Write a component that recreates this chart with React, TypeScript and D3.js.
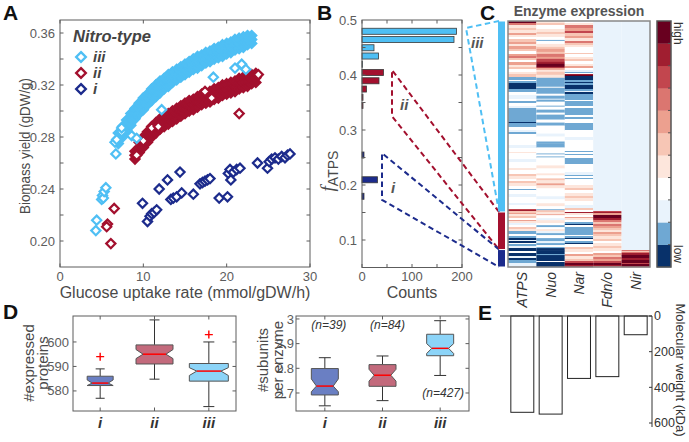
import React from 'react';
import * as d3 from 'd3';

const FONT = "'Liberation Sans', Arial, Helvetica, sans-serif";
const C3 = '#4fbff4';
const C2 = '#a3102e';
const C1 = '#1c2b8c';
const AX = '#5c5c5c';
const TXT = '#4a4a4a';

// ---------------- Panel A data ----------------
const bandIII: [number, number, number][] = [
  [7.0, .275, .283], [7.5, .280, .288], [8.0, .285, .293], [8.5, .289, .298], [9.0, .294, .302],
  [9.5, .298, .306], [10.0, .301, .310], [10.5, .305, .313], [11.0, .308, .317], [11.5, .311, .320],
  [12.0, .314, .323], [12.5, .317, .325], [13.0, .319, .328], [13.5, .322, .330], [14.0, .324, .332],
  [14.5, .326, .334], [15.0, .328, .336], [15.5, .330, .338], [16.0, .332, .340], [16.5, .333, .342],
  [17.0, .335, .343], [17.5, .337, .345], [18.0, .338, .346], [18.5, .340, .348], [19.0, .341, .349],
  [19.5, .342, .351], [20.0, .344, .352], [20.5, .345, .353], [21.0, .347, .355], [21.5, .348, .356],
  [22.0, .349, .357], [22.5, .351, .358], [23.0, .352, .358],
];
const bandII: [number, number, number][] = [
  [9.0, .263, .269], [9.5, .268, .276], [10.0, .272, .280], [10.5, .276, .284], [11.0, .280, .288],
  [11.5, .283, .291], [12.0, .286, .294], [12.5, .288, .296], [13.0, .290, .298], [13.5, .292, .300],
  [14.0, .294, .302], [14.5, .296, .304], [15.0, .298, .306], [15.5, .300, .308], [16.0, .301, .309],
  [16.5, .303, .311], [17.0, .305, .313], [17.5, .306, .314], [18.0, .307, .315], [18.5, .309, .317],
  [19.0, .310, .318], [19.5, .312, .320], [20.0, .313, .321], [20.5, .314, .322], [21.0, .315, .323],
  [21.5, .317, .325], [22.0, .318, .326], [22.5, .319, .327], [23.0, .321, .328], [23.5, .322, .329],
];
const ptsIII: [number, number][] = [
  [4.4, 0.216], [4.3, 0.208], [5.0, 0.232], [5.1, 0.235], [5.2, 0.233], [5.3, 0.238], [5.5, 0.241],
  [6.7, 0.267], [6.6, 0.276], [6.8, 0.278], [7.4, 0.284], [7.4, 0.287], [8.6, 0.281], [9.2, 0.279],
  [12.2, 0.301], [18.4, 0.326], [21.0, 0.333], [21.8, 0.336], [22.3, 0.332],
];
const ptsII: [number, number][] = [
  [5.7, 0.213], [5.6, 0.211], [6.5, 0.225], [6.1, 0.198], [11.0, 0.287], [11.8, 0.288],
  [21.5, 0.298], [23.8, 0.328], [17.4, 0.315], [18.2, 0.310], [10.0, 0.277], [9.2, 0.266],
];
const ptsI: [number, number][] = [
  [9.9, 0.229], [10.5, 0.215], [10.8, 0.219], [11.0, 0.221], [11.3, 0.222], [11.6, 0.224], [11.9, 0.240],
  [12.9, 0.247], [13.3, 0.232], [13.6, 0.233], [14.0, 0.234], [14.4, 0.253], [14.6, 0.237], [16.0, 0.236],
  [16.8, 0.244], [17.1, 0.245], [17.4, 0.246], [17.7, 0.247], [18.0, 0.248], [19.1, 0.233], [20.1, 0.234],
  [20.2, 0.252], [20.4, 0.255], [20.5, 0.247], [20.8, 0.253], [21.2, 0.255], [21.6, 0.256], [23.7, 0.260],
  [24.9, 0.256], [25.1, 0.261], [25.4, 0.263], [25.8, 0.264], [26.2, 0.263], [26.6, 0.265], [27.0, 0.264],
  [27.3, 0.266], [27.6, 0.267],
];
const aXTicks = [0, 10, 20, 30];
const aYTicks = [0.2, 0.22, 0.24, 0.26, 0.28, 0.3, 0.32, 0.34, 0.36];
const aYLabels = [0.2, 0.24, 0.28, 0.32, 0.36];

// ---------------- Panel B data ----------------
const fBinsIII = [0.4795, 0.4645, 0.4495, 0.4345, 0.4195];
const countsIII = [189, 184, 24, 33, 1];
const fBinsII = [0.4045, 0.3895, 0.3745, 0.3595, 0.3445];
const countsII = [43, 34, 9, 2, 2];
const fBinsI = [0.2545, 0.2095, 0.1795];
const countsI = [4, 31, 4];
const bXTicks = [0, 50, 100, 150, 200];
const bXLabels = [0, 100, 200];
const bYTicks = [0.1, 0.15, 0.2, 0.25, 0.3, 0.35, 0.4, 0.45];
const bYLabels = [0.1, 0.2, 0.3, 0.4, 0.5];
const connIII: [number, number][] = [[208, 0.4855]];
const connII: [number, number][] = [[60, 0.409], [60, 0.325]];
const connI: [number, number][] = [[40, 0.258], [40, 0.173]];

// ---------------- Panel C data ----------------
const enzymes = ['ATPS', 'Nuo', 'Nar', 'Fdn/o', 'Nir'];
const groupNames = ['iii', 'ii', 'i'];
const groupSizes = [427, 84, 39];
const levelColors = ['#08316a', '#6fa8d3', '#e9f3fc', '#ffffff', '#fde6dc', '#f7c6b5', '#eca08f', '#db7670', '#c2464e', '#a01e30', '#68001f'];
const heatATPS: [number, number][] = [
  [10, 2], [7, 2], [4, 3], [5, 2], [4, 3], [6, 2], [4, 2], [3, 2], [5, 3], [6, 2], [4, 2], [6, 3], [5, 2], [3, 3], [6, 2], [7, 2], [5, 2], [3, 2], [6, 3], [4, 2], [5, 2], [3, 3], [4, 2], [5, 3],
  [1, 3], [3, 1], [1, 2], [0, 6], [1, 3], [3, 3], [2, 4], [3, 2], [1, 2], [3, 3], [2, 2], [1, 14], [0, 1], [1, 4], [3, 3], [2, 2], [1, 2], [3, 3],
  [3, 8], [2, 3], [3, 4], [4, 1], [3, 6], [2, 3], [3, 6], [4, 2], [3, 4], [5, 2], [4, 3], [3, 2], [5, 2], [4, 3], [3, 3], [1, 1], [3, 4], [2, 3], [3, 3],
  [3, 3], [2, 2], [3, 4],
  [8, 1], [9, 1], [5, 2], [6, 1], [4, 2], [5, 2], [3, 2], [6, 1], [4, 2], [2, 2], [3, 2], [5, 2], [4, 2], [1, 3], [3, 2], [1, 2], [0, 2], [2, 1], [0, 2], [3, 1], [1, 2], [2, 2],
  [0, 3], [3, 2], [0, 3], [2, 2], [0, 2], [1, 3], [2, 4],
];
const heatNuo: [number, number][] = [
  [4, 2], [5, 2], [3, 1], [3, 3], [4, 3], [5, 2], [4, 3], [3, 3], [1, 1], [3, 3], [4, 3], [5, 2], [6, 3], [5, 2], [7, 3], [6, 2], [8, 3], [9, 2], [10, 3], [9, 1], [6, 2], [4, 2], [5, 3], [4, 3],
  [1, 7], [1, 2], [3, 1], [1, 2], [1, 4], [3, 2], [1, 3], [2, 1], [1, 2], [3, 4], [1, 1], [3, 3], [1, 3], [3, 2], [1, 5], [3, 3], [1, 3], [3, 8], [2, 3], [3, 5], [1, 2],
  [1, 4], [3, 6], [1, 1], [3, 2], [1, 1], [3, 8], [4, 3], [3, 5], [4, 2], [3, 3], [5, 2], [4, 3], [6, 2], [4, 3], [3, 3], [3, 5], [2, 3], [3, 4], [4, 3], [3, 3],
  [1, 1], [5, 2], [4, 2], [6, 1], [3, 3], [2, 2], [4, 3], [3, 2], [1, 2], [3, 2], [4, 2], [2, 2], [1, 2], [3, 3], [1, 3], [2, 2], [1, 2], [3, 2], [1, 1], [0, 2],
  [0, 4], [1, 1], [0, 6], [3, 1], [0, 5],
];
const heatNar: [number, number][] = [
  [3, 2], [4, 2], [7, 3], [6, 3], [8, 2], [5, 3], [6, 2], [4, 3], [7, 2], [5, 2], [4, 2], [3, 3], [3, 3], [5, 1], [3, 3], [4, 2], [5, 2], [3, 3], [4, 2], [6, 2], [3, 2], [2, 2], [1, 1], [3, 1], [9, 1], [10, 1],
  [0, 4], [1, 2], [0, 1], [1, 2], [0, 4], [1, 2], [2, 1], [0, 2], [1, 3], [1, 3], [3, 1], [1, 3], [1, 2], [3, 2], [1, 7], [3, 2], [1, 2], [3, 4], [1, 2], [1, 5], [3, 2], [3, 5], [2, 3], [3, 4],
  [3, 5], [3, 2], [1, 1], [3, 2], [1, 1], [3, 3], [1, 6], [3, 8], [2, 3], [1, 1], [3, 2], [1, 1], [3, 6], [4, 3], [5, 2], [3, 3], [4, 3], [5, 2], [4, 3], [3, 4], [2, 3], [5, 2], [3, 2],
  [9, 1], [4, 2], [3, 2], [6, 1], [4, 2], [3, 2], [1, 2], [0, 1], [3, 2], [1, 8], [3, 1], [1, 2], [0, 1], [3, 2], [1, 2], [0, 1], [3, 3],
  [5, 2], [4, 3], [3, 2], [6, 2], [4, 3], [5, 2], [8, 2], [10, 2], [9, 2],
];
const heatFdn: [number, number][] = [
  [2, 190],
  [8, 1], [9, 1], [6, 2], [10, 3], [9, 2], [7, 2], [5, 2], [7, 2], [6, 2], [5, 2], [4, 2], [6, 2], [5, 2], [4, 3], [5, 2], [3, 2], [4, 3], [5, 2], [4, 3], [3, 2], [6, 2], [5, 2], [7, 2], [6, 2], [8, 2], [10, 2], [9, 1], [7, 1],
];
const heatNir: [number, number][] = [
  [2, 229],
  [7, 1], [5, 1], [7, 1], [9, 2], [10, 3], [9, 2], [10, 3], [8, 1], [10, 2], [9, 1],
];
const heatColumns = [heatATPS, heatNuo, heatNar, heatFdn, heatNir];

// ---------------- Panel D data ----------------
const types = ['i', 'ii', 'iii'];
const protLo = [577, 584.8, 573.6];
const protQ1 = [582.2, 591, 584];
const protMed = [583.2, 595, 588.1];
const protQ3 = [586, 598.8, 591.2];
const protHi = [589, 609, 600];
const protNotchLo = [581.3, 593.2, 586.3];
const protNotchHi = [584.5, 596.9, 589.5];
const protOutliers = [[594], [], [603]];
const protTicks = [580, 590, 600];

const subLo = [2.648, 2.669, 2.771];
const subQ1 = [2.692, 2.727, 2.851];
const subMed = [2.728, 2.772, 2.881];
const subQ3 = [2.799, 2.815, 2.938];
const subHi = [2.843, 2.85, 2.993];
const subNotchLo = [2.705, 2.748, 2.86];
const subNotchHi = [2.757, 2.796, 2.90];
const subTicks = [2.7, 2.8, 2.9, 3];
const subN = [39, 84, 427];

// ---------------- Panel E data ----------------
const molWeight = [540, 550, 350, 340, 105];
const eTicks = [0, 200, 400, 600];

// ---------------- helpers ----------------
const TL = 3.5;
const diamond = (cx: number, cy: number, s: number) =>
  `M${cx},${cy - s}L${cx + s},${cy}L${cx},${cy + s}L${cx - s},${cy}Z`;

function Frame({ l, r, t, b, xt, yt }: { l: number; r: number; t: number; b: number; xt: number[]; yt: number[] }) {
  return (
    <g stroke={AX} strokeWidth={1} fill="none">
      <rect x={l} y={t} width={r - l} height={b - t} />
      {xt.map((x, i) => (
        <g key={'x' + i}>
          <line x1={x} x2={x} y1={b} y2={b - TL} />
          <line x1={x} x2={x} y1={t} y2={t + TL} />
        </g>
      ))}
      {yt.map((y, i) => (
        <g key={'y' + i}>
          <line x1={l} x2={l + TL} y1={y} y2={y} />
          <line x1={r} x2={r - TL} y1={y} y2={y} />
        </g>
      ))}
    </g>
  );
}

function notchBox(cx: number, w: number, q1: number, q3: number, med: number, nLo: number, nHi: number, ys: (v: number) => number) {
  const k = 0.62;
  const L = cx - w / 2, R = cx + w / 2, iL = cx - (w * k) / 2, iR = cx + (w * k) / 2;
  const lo = Math.max(nLo, q1), hi = Math.min(nHi, q3);
  return `M${L},${ys(q1)}L${L},${ys(lo)}L${iL},${ys(med)}L${L},${ys(hi)}L${L},${ys(q3)}L${R},${ys(q3)}L${R},${ys(hi)}L${iR},${ys(med)}L${R},${ys(lo)}L${R},${ys(q1)}Z`;
}

export default function App() {
  // Panel A
  const xA = d3.scaleLinear().domain([0, 30]).range([60, 310]);
  const yA = d3.scaleLinear().domain([0.18, 0.37]).range([267, 20]);
  // Panel B
  const xB = d3.scaleLinear().domain([0, 200]).range([362, 462]);
  const yB = d3.scaleLinear().domain([0.05, 0.5]).range([267.5, 20]);
  // Panel C
  const xH = d3.scaleBand<string>().domain(enzymes).range([508, 650]);
  const totalRows = d3.sum(groupSizes);
  const yH = d3.scaleLinear().domain([0, totalRows]).range([21, 267]);
  const yCB = d3.scaleLinear().domain([0, levelColors.length]).range([267, 21]);
  // Panel E
  const xE = d3.scaleBand<string>().domain(enzymes).range([508, 650]).paddingInner(0.19).paddingOuter(0.1);
  const yE = d3.scaleLinear().domain([0, 600]).range([316, 423]);
  // Panel D
  const xDL = d3.scalePoint<string>().domain(types).range([73, 236]).padding(0.5);
  const yDL = d3.scaleLinear().domain([571.8, 610.6]).range([411, 316]);
  const xDR = d3.scalePoint<string>().domain(types).range([296, 469]).padding(0.5);
  const yDR = d3.scaleLinear().domain([2.627, 3.012]).range([411, 316]);

  const groupStarts = groupSizes.map((_, i) => d3.sum(groupSizes.slice(0, i)));
  const groupColors = [C3, C2, C1];

  const line = d3.line<[number, number]>();
  const indX = 499;
  const connectors = [connIII, connII, connI].map((pts, gi) => {
    const top: [number, number] = [indX, yH(groupStarts[gi])];
    const bot: [number, number] = [indX, yH(groupStarts[gi] + groupSizes[gi])];
    const mid = pts.map(([c, f]) => [xB(c), yB(f)] as [number, number]);
    return line([top, ...mid, bot]) as string;
  });

  const bars = [
    { bins: fBinsIII, counts: countsIII, color: C3 },
    { bins: fBinsII, counts: countsII, color: C2 },
    { bins: fBinsI, counts: countsI, color: C1 },
  ];

  const boxWL = [26, 37, 39];
  const capWL = [9, 10, 11];
  const boxFill = ['#6a7fc3', '#c36a7c', '#8cd4f8'];

  return (
    <svg width={689} height={442} style={{ position: 'absolute', left: 0, top: 0, background: '#fff' }} fontFamily={FONT}>
      {/* ---------------- Panel A ---------------- */}
      <g>
        {bandIII.flatMap(([x, lo, hi], i) =>
          [lo, (lo + hi) / 2, hi].map((y, j) => (
            <path key={`b3-${i}-${j}`} d={diamond(xA(x), yA(y), 5)} fill={C3} stroke={C3} strokeWidth={1.6} />
          ))
        )}
        {bandII.flatMap(([x, lo, hi], i) =>
          [lo, (lo + hi) / 2, hi].map((y, j) => (
            <path key={`b2-${i}-${j}`} d={diamond(xA(x), yA(y), 5)} fill={C2} stroke={C2} strokeWidth={1.6} />
          ))
        )}
        {ptsI.map(([x, y], i) => (
          <path key={'p1' + i} d={diamond(xA(x), yA(y), 4.6)} fill="#fff" stroke={C1} strokeWidth={2.2} />
        ))}
        {ptsII.map(([x, y], i) => (
          <path key={'p2' + i} d={diamond(xA(x), yA(y), 4.6)} fill="#fff" stroke={C2} strokeWidth={2.2} />
        ))}
        {ptsIII.map(([x, y], i) => (
          <path key={'p3' + i} d={diamond(xA(x), yA(y), 4.6)} fill="#fff" stroke={C3} strokeWidth={2.2} />
        ))}
        <Frame l={60} r={310} t={20} b={267} xt={aXTicks.map(xA)} yt={aYTicks.map(yA)} />
        {aXTicks.map((t) => (
          <text key={'ax' + t} x={xA(t)} y={281} textAnchor="middle" fontSize={13} fill={AX}>{t}</text>
        ))}
        {aYLabels.map((t) => (
          <text key={'ay' + t} x={55} y={yA(t)} dy="0.35em" textAnchor="end" fontSize={13} fill={AX}>{t.toFixed(2)}</text>
        ))}
        <text x={185} y={298} textAnchor="middle" fontSize={16} fill={TXT}>Glucose uptake rate (mmol/gDW/h)</text>
        <text transform="translate(30,146) rotate(-90)" textAnchor="middle" fontSize={15} fill={TXT} textLength={136} lengthAdjust="spacingAndGlyphs">Biomass yield (gDW/g)</text>
        {/* legend */}
        <text x={73} y={42} fontSize={16.5} fontWeight="bold" fontStyle="italic" fill="#444">Nitro-type</text>
        {[C3, C2, C1].map((c, i) => (
          <g key={'lg' + i}>
            <path d={diamond(81, 57 + i * 16, 4.8)} fill="#fff" stroke={c} strokeWidth={2.4} />
            <text x={93} y={62 + i * 16} fontSize={15} fontWeight="bold" fontStyle="italic" fill="#444">{groupNames[i]}</text>
          </g>
        ))}
      </g>

      {/* ---------------- Panel B ---------------- */}
      <g>
        {bars.map((s, si) =>
          s.bins.map((f, i) => (
            <rect key={`bb${si}-${i}`} x={xB(0)} y={yB(f + 0.0055)} width={xB(s.counts[i]) - xB(0)} height={yB(f - 0.0055) - yB(f + 0.0055)} fill={s.color} stroke="#3a3a3a" strokeWidth={0.8} />
          ))
        )}
        <Frame l={362} r={462} t={20} b={267.5} xt={bXTicks.map(xB)} yt={bYTicks.map(yB)} />
        {bXLabels.map((t) => (
          <text key={'bx' + t} x={xB(t)} y={281} textAnchor="middle" fontSize={13} fill={AX}>{t}</text>
        ))}
        {bYLabels.map((t) => (
          <text key={'by' + t} x={357} y={yB(t)} dy="0.35em" textAnchor="end" fontSize={13} fill={AX}>{t.toFixed(1)}</text>
        ))}
        <text x={412} y={298} textAnchor="middle" fontSize={16} fill={TXT}>Counts</text>
        <text transform="translate(334,171) rotate(-90)" textAnchor="middle" fill={TXT}>
          <tspan fontSize={19} fontStyle="italic" fontFamily="'Liberation Serif', 'Times New Roman', serif">f</tspan>
          <tspan fontSize={14} dy={4}>ATPS</tspan>
        </text>
      </g>

      {/* connectors */}
      {connectors.map((d, i) => (
        <path key={'cn' + i} d={d} fill="none" stroke={groupColors[i]} strokeWidth={2} strokeDasharray="5.5,3.5" />
      ))}
      <text x={471} y={48} fontSize={15} fontWeight="bold" fontStyle="italic" fill="#555">iii</text>
      <text x={400} y={110} fontSize={15} fontWeight="bold" fontStyle="italic" fill="#555">ii</text>
      <text x={391} y={193} fontSize={15} fontWeight="bold" fontStyle="italic" fill="#555">i</text>

      {/* ---------------- Panel C ---------------- */}
      <g>
        {heatColumns.map((col, ci) => {
          const tot = d3.sum(col, (d) => d[1]);
          const k = totalRows / tot;
          let cum = 0;
          return col.map(([lvl, n], si) => {
            const y0 = yH(cum * k);
            cum += n;
            const y1 = yH(cum * k);
            return (
              <rect key={`h${ci}-${si}`} x={xH(enzymes[ci])} y={y0} width={xH.bandwidth()} height={y1 - y0 + 0.3} fill={levelColors[lvl]} />
            );
          });
        })}
        <rect x={508} y={21} width={142} height={246} fill="none" stroke="#888" strokeWidth={1.5} />
        {groupSizes.map((n, i) => (
          <rect key={'ind' + i} x={498} width={7} y={yH(groupStarts[i]) + 0.5} height={yH(groupStarts[i] + n) - yH(groupStarts[i]) - 1} fill={groupColors[i]} />
        ))}
        {levelColors.map((c, i) => (
          <rect key={'cb' + i} x={657} width={14} y={yCB(i + 1)} height={yCB(i) - yCB(i + 1) + 0.3} fill={c} />
        ))}
        <rect x={657} y={21} width={14} height={246} fill="none" stroke="#555" strokeWidth={1.5} />
        {d3.range(1, levelColors.length).map((i) => (
          <line key={'cbt' + i} x1={671} x2={668} y1={yCB(i)} y2={yCB(i)} stroke="#555" strokeWidth={1} />
        ))}
        <text transform="translate(674,22) rotate(90)" fontSize={12} fill="#333">high</text>
        <text transform="translate(674,245) rotate(90)" fontSize={12} fill="#333">low</text>
        <text x={579} y={16} textAnchor="middle" fontSize={14} fontWeight="bold" fill="#555">Enzyme expression</text>
        {enzymes.map((e) => (
          <text key={'cl' + e} transform={`translate(${(xH(e) as number) + xH.bandwidth() / 2 + 5},272) rotate(-90)`} textAnchor="end" fontSize={14} fontStyle="italic" fill="#333">{e}</text>
        ))}
      </g>

      {/* ---------------- Panel E ---------------- */}
      <g>
        {enzymes.map((e, i) => (
          <rect key={'e' + e} x={xE(e)} y={yE(0)} width={xE.bandwidth()} height={yE(molWeight[i]) - yE(0)} fill="#fff" stroke="#222" strokeWidth={1} />
        ))}
        <line x1={500} x2={652} y1={yE(0)} y2={yE(0)} stroke="#333" strokeWidth={1} />
        <line x1={652} x2={652} y1={yE(0)} y2={427} stroke="#333" strokeWidth={1} />
        {eTicks.map((t) => (
          <g key={'et' + t}>
            <line x1={652} x2={649} y1={yE(t)} y2={yE(t)} stroke="#333" />
            <text x={654} y={yE(t)} dy="0.35em" fontSize={12.5} fill="#333">{t}</text>
          </g>
        ))}
        <text transform="translate(676,370) rotate(90)" textAnchor="middle" fontSize={13} fill="#333">Molecular weight (kDa)</text>
      </g>

      {/* ---------------- Panel D ---------------- */}
      <g>
        {types.map((t, i) => {
          const cx = xDL(t) as number;
          return (
            <g key={'dl' + t}>
              <line x1={cx} x2={cx} y1={yDL(protHi[i])} y2={yDL(protQ3[i])} stroke="#333" />
              <line x1={cx} x2={cx} y1={yDL(protQ1[i])} y2={yDL(protLo[i])} stroke="#333" />
              <line x1={cx - capWL[i] / 2} x2={cx + capWL[i] / 2} y1={yDL(protHi[i])} y2={yDL(protHi[i])} stroke="#333" />
              <line x1={cx - capWL[i] / 2} x2={cx + capWL[i] / 2} y1={yDL(protLo[i])} y2={yDL(protLo[i])} stroke="#333" />
              <path d={notchBox(cx, boxWL[i], protQ1[i], protQ3[i], protMed[i], protNotchLo[i], protNotchHi[i], yDL)} fill={boxFill[i]} stroke="#555" strokeWidth={1} />
              <line x1={cx - boxWL[i] * 0.31} x2={cx + boxWL[i] * 0.31} y1={yDL(protMed[i])} y2={yDL(protMed[i])} stroke="#f00" strokeWidth={1.5} />
              {protOutliers[i].map((o, j) => (
                <path key={'o' + j} d={`M${cx - 4},${yDL(o)}h8M${cx},${yDL(o) - 4}v8`} stroke="#f00" strokeWidth={1.4} />
              ))}
            </g>
          );
        })}
        <Frame l={73} r={236} t={316} b={411} xt={types.map((t) => xDL(t) as number)} yt={protTicks.map(yDL)} />
        {protTicks.map((t) => (
          <text key={'dly' + t} x={69} y={yDL(t)} dy="0.35em" textAnchor="end" fontSize={13} fill={AX}>{t}</text>
        ))}
        <text transform="translate(34,363) rotate(-90)" textAnchor="middle" fontSize={15} fill={TXT}>#expressed</text>
        <text transform="translate(48,363) rotate(-90)" textAnchor="middle" fontSize={15} fill={TXT}>proteins</text>

        {types.map((t, i) => {
          const cx = xDR(t) as number;
          const w = 27;
          return (
            <g key={'dr' + t}>
              <line x1={cx} x2={cx} y1={yDR(subHi[i])} y2={yDR(subQ3[i])} stroke="#333" />
              <line x1={cx} x2={cx} y1={yDR(subQ1[i])} y2={yDR(subLo[i])} stroke="#333" />
              <line x1={cx - 6} x2={cx + 6} y1={yDR(subHi[i])} y2={yDR(subHi[i])} stroke="#333" />
              <line x1={cx - 6} x2={cx + 6} y1={yDR(subLo[i])} y2={yDR(subLo[i])} stroke="#333" />
              <path d={notchBox(cx, w, subQ1[i], subQ3[i], subMed[i], subNotchLo[i], subNotchHi[i], yDR)} fill={boxFill[i]} stroke="#555" strokeWidth={1} />
              <line x1={cx - w * 0.31} x2={cx + w * 0.31} y1={yDR(subMed[i])} y2={yDR(subMed[i])} stroke="#f00" strokeWidth={1.5} />
            </g>
          );
        })}
        <Frame l={296} r={469} t={316} b={411} xt={types.map((t) => xDR(t) as number)} yt={subTicks.map(yDR)} />
        {subTicks.map((t) => (
          <text key={'dry' + t} x={294} y={yDR(t)} dy="0.35em" textAnchor="end" fontSize={13} fill={AX}>{t === 3 ? '3' : t.toFixed(1)}</text>
        ))}
        <text transform="translate(268,360) rotate(-90)" textAnchor="middle" fontSize={15} fill={TXT}>#subunits</text>
        <text transform="translate(283,360) rotate(-90)" textAnchor="middle" fontSize={15} fill={TXT}>per enzyme</text>
        <text x={(xDR('i') as number) + 4} y={329} textAnchor="middle" fontSize={12} fontStyle="italic" fill="#333">(n={subN[0]})</text>
        <text x={(xDR('ii') as number) + 5} y={329} textAnchor="middle" fontSize={12} fontStyle="italic" fill="#333">(n={subN[1]})</text>
        <text x={(xDR('iii') as number) + 3} y={397} textAnchor="middle" fontSize={12} fontStyle="italic" fill="#333">(n={subN[2]})</text>
        {types.map((t) => (
          <g key={'dlab' + t}>
            <text x={xDL(t)} y={428} textAnchor="middle" fontSize={15} fontWeight="bold" fontStyle="italic" fill="#333">{t}</text>
            <text x={xDR(t)} y={428} textAnchor="middle" fontSize={15} fontWeight="bold" fontStyle="italic" fill="#333">{t}</text>
          </g>
        ))}
      </g>

      {/* panel letters */}
      <g fontSize={21} fontWeight="bold" fill="#111">
        <text x={3} y={20}>A</text>
        <text x={317} y={20}>B</text>
        <text x={480} y={20}>C</text>
        <text x={3} y={319}>D</text>
        <text x={478} y={320}>E</text>
      </g>
    </svg>
  );
}
